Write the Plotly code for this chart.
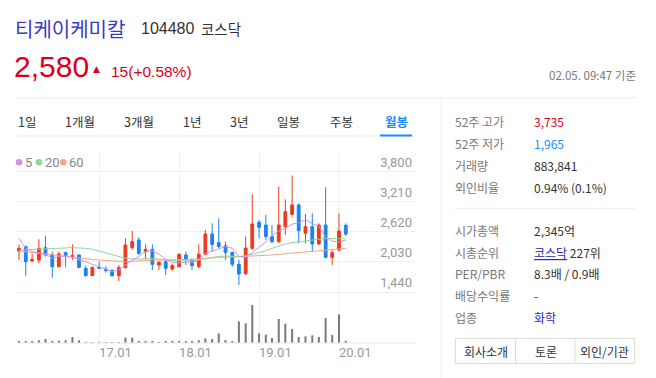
import plotly.graph_objects as go
import pandas as pd

# page body has an 8px margin: figure is sized to fit the remaining viewport
OFF = 8
W, H = 656 - OFF, 378 - OFF

# ---------------- data ----------------
months = pd.date_range("2016-01-01", periods=50, freq="MS")
opens = [2246, 2332, 2050, 2069, 2312, 2168, 1938, 2214, 2135, 2168,
         1905, 1761, 1932, 1892, 1866, 1761, 1918, 2312, 2463, 2233,
         2279, 1971, 2036, 1892, 1938, 2168, 2069, 1938, 2181, 2581,
         2410, 2351, 2220, 1984, 1800, 2298, 2810, 2757, 2528, 2429,
         2724, 2967, 3151, 2593, 2724, 2384, 2757, 2121, 2266, 2750]
highs = [2377, 2351, 2187, 2476, 2548, 2233, 2233, 2233, 2377, 2180,
         1958, 1938, 2036, 1951, 1886, 1971, 2495, 2640, 2515, 2377,
         2377, 2049, 2069, 2004, 2200, 2233, 2102, 2377, 2659, 2790,
         2889, 2430, 2233, 2069, 2530, 3360, 2856, 2954, 2757, 3511,
         3262, 3728, 3183, 2974, 2987, 2790, 3498, 2266, 2987, 2790]
lows = [2069, 1755, 2036, 2004, 2135, 1722, 1925, 1925, 2069, 1905,
        1742, 1755, 1892, 1820, 1742, 1656, 1905, 2266, 2168, 2082,
        1873, 1873, 1774, 1853, 1925, 1971, 1873, 1905, 2168, 2233,
        2299, 2069, 1938, 1578, 1774, 2266, 2495, 2462, 2397, 2397,
        2561, 2921, 2397, 2397, 2233, 2364, 2102, 1971, 2233, 2540]
closes = [2299, 2036, 2082, 2299, 2168, 1938, 2187, 2155, 2155, 1925,
          1761, 1925, 1905, 1860, 1761, 1918, 2364, 2430, 2200, 2279,
          1984, 2023, 1905, 1958, 2181, 2082, 1958, 2181, 2581, 2377,
          2332, 2214, 1984, 1794, 2305, 2777, 2711, 2528, 2429, 2757,
          3020, 3151, 2646, 2724, 2384, 2757, 2121, 2213, 2639, 2580]
volumes = [880, 880, 880, 1180, 1760, 880, 1030, 1180, 2650, 1180,
           440, 440, 440, 440, 440, 440, 2350, 2350, 880, 590,
           590, 440, 590, 590, 590, 590, 590, 1180, 2060, 1760,
           4260, 1320, 740, 9560, 8670, 16760, 4260, 3680, 2210, 10580,
           8530, 6170, 2650, 2940, 3380, 2650, 11030, 3530, 12640, 884]
ma5 = [2495, 2300, 2235, 2210, 2177, 2105, 2135, 2149, 2121, 2072,
       2037, 1984, 1934, 1875, 1842, 1874, 1962, 2067, 2135, 2238,
       2251, 2183, 2078, 2030, 2010, 2030, 2017, 2072, 2197, 2236,
       2286, 2337, 2298, 2140, 2126, 2215, 2314, 2423, 2550, 2640,
       2689, 2777, 2801, 2860, 2785, 2732, 2526, 2440, 2423, 2462]
ma20 = [2266, 2270, 2275, 2280, 2286, 2292, 2300, 2306, 2312, 2308,
        2299, 2280, 2246, 2210, 2168, 2135, 2102, 2089, 2092, 2100,
        2095, 2085, 2069, 2060, 2055, 2050, 2055, 2069, 2095, 2122,
        2138, 2148, 2142, 2135, 2148, 2180, 2213, 2255, 2298, 2340,
        2384, 2410, 2430, 2448, 2462, 2478, 2495, 2495, 2495, 2485]
ma60 = [2246, 2230, 2212, 2196, 2181, 2165, 2148, 2130, 2115, 2103,
        2092, 2080, 2069, 2060, 2052, 2044, 2036, 2045, 2055, 2060,
        2065, 2068, 2069, 2069, 2070, 2072, 2075, 2085, 2100, 2115,
        2120, 2125, 2130, 2135, 2140, 2150, 2158, 2163, 2167, 2180,
        2192, 2203, 2213, 2225, 2238, 2252, 2266, 2276, 2287, 2298]
price_ticks = [1440, 2030, 2620, 3210, 3800]
date_ticks = ["2017-01-01", "2018-01-01", "2019-01-01", "2020-01-01"]
ma_names = ["5", "20", "60"]
tabs = ["1일", "1개월", "3개월", "1년", "3년", "일봉", "주봉", "월봉"]
info_labels = ["52주 고가", "52주 저가", "거래량", "외인비율"]
info_values = ["3,735", "1,965", "883,841", "0.94% (0.1%)"]
info2_labels = ["시가총액", "시총순위", "PER/PBR", "배당수익률", "업종"]
info2_values = ["2,345억", "<u>코스닥</u> 227위", "8.3배 / 0.9배", "-", "화학"]
buttons = ["회사소개", "토론", "외인/기관"]

# ---------------- style ----------------
RED = "#ec3a1f"
BLUE = "#1f80f2"
MA_COLORS = ["#cc93ec", "#8fd79c", "#f6a680"]
GRID = "#f0f0f0"
KR = "Noto Sans CJK KR"
RB = "Roboto"
AR = "Liberation Sans"

fig = go.Figure()

fig.add_trace(go.Bar(x=months, y=volumes, marker=dict(color="#7a7a7a", line=dict(width=0)),
                     width=8e8, yaxis="y2", xaxis="x", hoverinfo="skip", showlegend=False))
fig.add_trace(go.Candlestick(
    x=months, open=opens, high=highs, low=lows, close=closes,
    increasing=dict(line=dict(color=RED, width=1), fillcolor=RED),
    decreasing=dict(line=dict(color=BLUE, width=1), fillcolor=BLUE),
    whiskerwidth=0, showlegend=False, xaxis="x", yaxis="y"))
for vals, col in zip([ma60, ma20, ma5], [MA_COLORS[2], MA_COLORS[1], MA_COLORS[0]]):
    fig.add_trace(go.Scatter(x=months, y=vals, mode="lines", line=dict(color=col, width=1),
                             showlegend=False, hoverinfo="skip", xaxis="x", yaxis="y"))


def X(v):
    return (v - OFF) / W


def Y(v):
    return 1 - (v - OFF) / H


fig.update_layout(
    width=W, height=H, margin=dict(l=0, r=0, t=0, b=0),
    paper_bgcolor="white", plot_bgcolor="white", boxgap=0.35,
    showlegend=False,
    xaxis=dict(domain=[X(17), X(415)], range=["2015-12-23", "2020-12-13"], type="date",
               tickvals=date_ticks, tickformat="%y.%m", showgrid=True, gridcolor=GRID,
               gridwidth=1, zeroline=False, showline=False, ticks="",
               ticklabelposition="outside right",
               tickfont=dict(family=RB, size=13, color="#999"),
               rangeslider=dict(visible=False), anchor="y", fixedrange=True),
    yaxis=dict(domain=[Y(343), Y(152)], range=[437, 4193], tickvals=price_ticks,
               tickformat=",", side="right", ticklabelposition="inside top",
               showgrid=True, gridcolor=GRID, zeroline=False, showline=False, ticks="",
               tickfont=dict(family=RB, size=13, color="#999"), anchor="x", fixedrange=True),
    yaxis2=dict(domain=[Y(343), Y(300)], range=[0, 18965], visible=False, anchor="x",
                fixedrange=True),
)


def T(text, x, y, size, color, family=KR, xa="left", ya="middle"):
    fig.add_annotation(text=text, x=X(x), y=Y(y), xref="paper", yref="paper",
                       xanchor=xa, yanchor=ya, showarrow=False, borderpad=0, borderwidth=0,
                       font=dict(size=size, color=color, family=family))


def line(x0, y0, x1, y1, color, width=1):
    fig.add_shape(type="line", xref="paper", yref="paper", x0=X(x0), y0=Y(y0), x1=X(x1),
                  y1=Y(y1), line=dict(color=color, width=width))


# header
T("티케이케미칼", 15, 28, 20, "#3a3ac4")
T("104480", 141, 29, 16, "#333", AR)
T("코스닥", 201, 28.5, 14.5, "#333")
T("2,580", 14, 66.5, 30, "#d9001b", AR)
T("▲", 93, 69.5, 9, "#d9001b", "DejaVu Sans")
T("15(+0.58%)", 111, 71, 15.5, "#d9001b", AR)
T("02.05. 09:47 기준", 636, 74.5, 11.5, "#777", xa="right")
line(15, 98, 636, 98, "#ebebeb")
line(441, 98, 441, 378, "#eeeeee")

# tabs
tab_x = [27, 79.5, 138.5, 191.5, 238.5, 288.5, 341.5, 396]
for t, tx in zip(tabs, tab_x):
    if t == "월봉":
        T("<b>" + t + "</b>", tx, 121, 12.5, "#1a8cff", xa="center")
    else:
        T(t, tx, 121, 12.5, "#333", xa="center")
line(15, 136, 415, 136, "#eeeeee")
line(380, 135.5, 412, 135.5, "#1a8cff", 2)

# MA legend
for name, col, dx, tx in zip(ma_names, MA_COLORS, [19, 39, 63.3], [24.5, 44.5, 68.5]):
    fig.add_shape(type="circle", xref="paper", yref="paper", x0=X(dx - 3.3), x1=X(dx + 3.3),
                  y0=Y(162.3 + 3.3), y1=Y(162.3 - 3.3), fillcolor=col, line=dict(width=0))
    T(name, tx, 162.5, 13, "#888", RB)

# volume baseline
line(17, 343, 415, 343, "#e6e6e6")

# right info panel
info_y = [122, 143.5, 165, 187.5]
info_colors = ["#d9001b", "#1a8cff", "#333", "#333"]
for lab, val, yy, c in zip(info_labels, info_values, info_y, info_colors):
    T(lab, 455, yy, 12, "#777")
    T(val, 534, yy, 12, c)
line(455, 208.5, 635, 208.5, "#eeeeee")
info2_y = [230, 252, 273.5, 295, 317.5]
for lab, val, yy in zip(info2_labels, info2_values, info2_y):
    T(lab, 455, yy, 12, "#777")
    if lab == "업종":
        T(val, 534, yy, 12, "#2a2ab5")
    elif lab == "시총순위":
        T("<span style='color:#2a2ab5'>" + val.split(" ")[0] + "</span> " + val.split(" ")[1],
          534, yy, 12, "#333")
    else:
        T(val, 534, yy, 12, "#333")

# buttons
fig.add_shape(type="rect", xref="paper", yref="paper", x0=X(455.5), x1=X(634.5), y0=Y(363.5),
              y1=Y(338.5), line=dict(color="#dddddd", width=1), fillcolor="white")
line(515.5, 338.5, 515.5, 363.5, "#dddddd")
line(575, 338.5, 575, 363.5, "#dddddd")
for b, bx in zip(buttons, [485.5, 545.5, 604.5]):
    T(b, bx, 351.5, 12, "#333", xa="center")

fig.write_html("out.html")
